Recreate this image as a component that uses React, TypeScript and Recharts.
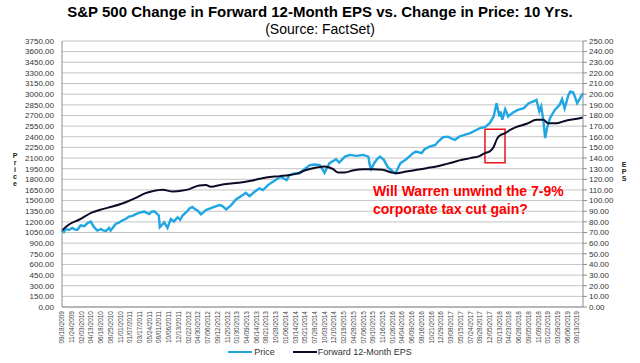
import React from "react"
import {
  ComposedChart,
  Line,
  XAxis,
  YAxis,
  CartesianGrid,
  ReferenceArea,
} from "recharts"

// ── Data ──────────────────────────────────────────────────────────────────────
// x positions are trading sessions since 09/18/2009 (one date label every 47 sessions)
const dateLabels = [
  "09/18/2009", "11/24/2009", "02/03/2010", "04/13/2010", "06/18/2010", "08/25/2010",
  "11/01/2010", "01/07/2011", "03/17/2011", "05/24/2011", "08/01/2011", "10/06/2011",
  "12/13/2011", "02/22/2012", "04/30/2012", "07/06/2012", "09/12/2012", "11/20/2012",
  "01/30/2013", "04/09/2013", "06/14/2013", "08/21/2013", "10/28/2013", "01/06/2014",
  "03/14/2014", "05/21/2014", "07/28/2014", "10/03/2014", "12/10/2014", "02/19/2015",
  "04/28/2015", "07/06/2015", "09/10/2015", "11/16/2015", "01/26/2016", "04/04/2016",
  "06/09/2016", "08/16/2016", "10/21/2016", "12/29/2016", "03/08/2017", "05/15/2017",
  "07/24/2017", "09/28/2017", "12/05/2017", "02/13/2018", "04/23/2018", "06/28/2018",
  "09/05/2018", "11/09/2018", "01/22/2019", "03/29/2019", "06/06/2019", "08/13/2019",
]
const SESSIONS_PER_LABEL = 47
const LAST_SESSION = 2519

const priceDay = [
  0, 9, 18, 33, 50, 61, 74, 90, 108, 122, 139, 155, 171, 188, 197, 212, 228, 235, 244, 259,
  275, 291, 308, 324, 341, 357, 376, 397, 422, 432, 447, 461, 468, 473, 484, 494, 503, 510,
  526, 541, 559, 571, 583, 602, 616, 630, 639, 656, 672, 696, 729, 761, 776, 794, 818, 841,
  874, 888, 907, 931, 954, 971, 996, 1020, 1043, 1058, 1086, 1100, 1123, 1147, 1170, 1199,
  1222, 1246, 1260, 1269, 1293, 1325, 1340, 1368, 1391, 1424, 1457, 1481, 1488, 1495, 1509,
  1523, 1537, 1556, 1575, 1600, 1612, 1636, 1664, 1683, 1697, 1711, 1739, 1753, 1777, 1805,
  1819, 1842, 1866, 1880, 1899, 1922, 1946, 1974, 1998, 2021, 2045, 2068, 2087, 2101, 2115,
  2120, 2129, 2143, 2157, 2181, 2204, 2233, 2256, 2280, 2294, 2308, 2317, 2327, 2336, 2345,
  2359, 2383, 2406, 2418, 2430, 2449, 2458, 2472, 2491, 2505, 2519,
]
const priceLevel = [
  1080, 1055, 1100, 1085, 1115, 1095, 1088, 1150, 1140, 1180, 1205, 1125, 1078, 1100, 1085,
  1070, 1115, 1078, 1110, 1170, 1190, 1220, 1240, 1275, 1285, 1310, 1330, 1345, 1310, 1340,
  1350, 1310, 1290, 1125, 1160, 1195, 1150, 1115, 1240, 1205, 1265, 1230, 1290, 1340, 1390,
  1410, 1390, 1357, 1306, 1367, 1404, 1437, 1423, 1376, 1437, 1517, 1578, 1611, 1564, 1625,
  1672, 1648, 1719, 1766, 1812, 1836, 1789, 1859, 1883, 1883, 1939, 2000, 2009, 2000, 1940,
  1890, 2027, 2083, 2036, 2121, 2144, 2130, 2144, 2121, 2004, 1943, 2027, 2083, 2121, 2074,
  1971, 1910, 1886, 2027, 2083, 2130, 2168, 2191, 2168, 2224, 2261, 2285, 2332, 2393, 2402,
  2379, 2357, 2404, 2428, 2451, 2489, 2521, 2536, 2592, 2686, 2873, 2686, 2756, 2639, 2789,
  2686, 2742, 2779, 2803, 2873, 2897, 2920, 2756, 2826, 2639, 2381, 2521, 2662, 2779, 2850,
  2930, 2800, 2991, 3037, 3023, 2873, 2944, 3014,
]

const epsDay = [
  0, 34, 82, 146, 195, 244, 308, 357, 404, 437, 486, 536, 583, 616, 663, 696, 719, 776, 855,
  914, 987, 1053, 1100, 1147, 1180, 1231, 1269, 1288, 1311, 1335, 1368, 1405, 1457, 1504,
  1551, 1593, 1617, 1664, 1716, 1763, 1810, 1861, 1899, 1922, 1974, 2021, 2045, 2068, 2087,
  2101, 2115, 2143, 2167, 2195, 2247, 2294, 2327, 2350, 2392, 2439, 2491, 2519,
]
const epsLevel = [
  72, 77.5, 82, 89, 92, 94.4, 98.5, 102.5, 107, 108.8, 110.3, 108.5, 109.4, 110.8, 114.3,
  114.6, 113, 115.2, 116.7, 118.7, 121.8, 123, 124, 126.1, 128.7, 131.1, 132, 131.4, 129.5,
  126.4, 126.4, 128.3, 129.5, 129.5, 128.9, 126.4, 125.7, 127.3, 128.9, 130.5, 132, 134.5,
  136.5, 137.8, 139.9, 142.1, 144.7, 146.2, 150.3, 157.1, 160.9, 163.4, 166.5, 169.1, 172.2,
  175.9, 175.9, 172.8, 172.8, 175.3, 176.9, 178.1,
]

const priceTicks = [
  0, 150, 300, 450, 600, 750, 900, 1050, 1200, 1350, 1500, 1650, 1800, 1950, 2100, 2250,
  2400, 2550, 2700, 2850, 3000, 3150, 3300, 3450, 3600, 3750,
]
const epsTicks = [
  0, 10, 20, 30, 40, 50, 60, 70, 80, 90, 100, 110, 120, 130, 140, 150, 160, 170, 180, 190,
  200, 210, 220, 230, 240, 250,
]

// red box around the Dec 2017 – Feb 2018 jump in forward EPS
const taxBoxDays = [2045, 2142]
const taxBoxPrice = [2034, 2505]

const priceData = priceDay.map((day, i) => ({ day, price: priceLevel[i] }))
const epsData = epsDay.map((day, i) => ({ day, eps: epsLevel[i] }))
const dateTicks = dateLabels.map((_, i) => i * SESSIONS_PER_LABEL)

const FONT = '"Liberation Sans", Arial, sans-serif'
const BLUE = "#1fa6e3"
const NAVY = "#0b0b26"

function DateTick({ x, y, payload }: any) {
  const label = dateLabels[Math.round(payload.value / SESSIONS_PER_LABEL)]
  return (
    <text
      x={x}
      y={y}
      transform={`rotate(-90 ${x} ${y})`}
      textAnchor="end"
      dy="0.35em"
      fontSize={6.5}
      fill="#444"
      fontFamily={FONT}
    >
      {label}
    </text>
  )
}

// axis name written as upright letters stacked top to bottom
function Stacked({ text, left, top }: { text: string; left: number; top: number }) {
  return (
    <div style={{ position: "absolute", left, top, width: 10, textAlign: "center" }}>
      {text.split("").map((c, i) => (
        <div key={i} style={{ fontSize: 7, lineHeight: "7px", height: 7, fontWeight: 700, color: "#222" }}>
          {c}
        </div>
      ))}
    </div>
  )
}

export default function App() {
  return (
    <div
      style={{
        position: "absolute",
        left: 0,
        top: 0,
        width: 640,
        height: 363,
        background: "#fff",
        fontFamily: FONT,
        overflow: "hidden",
      }}
    >
      <div
        style={{
          position: "absolute",
          top: 3,
          width: 640,
          textAlign: "center",
          fontSize: 15,
          lineHeight: "17px",
          fontWeight: 700,
          color: "#000",
        }}
      >
        S&amp;P 500 Change in Forward 12-Month EPS vs. Change in Price: 10 Yrs.
      </div>
      <div
        style={{
          position: "absolute",
          top: 21,
          width: 640,
          textAlign: "center",
          fontSize: 14,
          lineHeight: "16px",
          color: "#000",
        }}
      >
        (Source: FactSet)
      </div>

      <ComposedChart width={640} height={363} margin={{ top: 41, right: 0, bottom: 0, left: 0 }}>
        <CartesianGrid yAxisId="price" vertical={false} stroke="#c4c4c4" />
        <XAxis
          type="number"
          dataKey="day"
          domain={[0, LAST_SESSION]}
          ticks={dateTicks}
          interval={0}
          allowDuplicatedCategory={false}
          height={56}
          tick={<DateTick />}
          tickLine={false}
          tickSize={2}
          tickMargin={2}
          axisLine={{ stroke: "#8c8c8c" }}
        />
        <YAxis
          yAxisId="price"
          orientation="left"
          width={62}
          domain={[0, 3750]}
          ticks={priceTicks}
          interval={0}
          tickFormatter={(v: number) => v.toFixed(2)}
          tick={{ fontSize: 8, fill: "#333", fontFamily: FONT }}
          tickLine={false}
          tickSize={6}
          tickMargin={2}
          axisLine={{ stroke: "#8c8c8c" }}
        />
        <YAxis
          yAxisId="eps"
          orientation="right"
          width={57}
          domain={[0, 250]}
          ticks={epsTicks}
          interval={0}
          tickFormatter={(v: number) => v.toFixed(2)}
          tick={{ fontSize: 8, fill: "#333", fontFamily: FONT, textAnchor: "start" }}
          tickLine={{ stroke: "#8c8c8c" }}
          tickSize={4}
          tickMargin={2}
          axisLine={{ stroke: "#8c8c8c" }}
        />
        <Line
          yAxisId="price"
          data={priceData}
          dataKey="price"
          type="linear"
          stroke={BLUE}
          strokeWidth={2.4}
          dot={false}
          isAnimationActive={false}
        />
        <Line
          yAxisId="eps"
          data={epsData}
          dataKey="eps"
          type="monotone"
          stroke={NAVY}
          strokeWidth={2}
          dot={false}
          isAnimationActive={false}
        />
        <ReferenceArea
          yAxisId="price"
          x1={taxBoxDays[0]}
          x2={taxBoxDays[1]}
          y1={taxBoxPrice[0]}
          y2={taxBoxPrice[1]}
          fill="none"
          stroke="#e8141c"
          strokeWidth={1.5}
          ifOverflow="visible"
        />
      </ComposedChart>

      <Stacked text="Price" left={10} top={152} />
      <Stacked text="EPS" left={619} top={161} />

      <div
        style={{
          position: "absolute",
          left: 373,
          top: 182,
          fontSize: 14,
          lineHeight: "18px",
          fontWeight: 700,
          color: "#ff0000",
          whiteSpace: "nowrap",
        }}
      >
        Will Warren unwind the 7-9%
        <br />
        corporate tax cut gain?
      </div>

      <div
        style={{
          position: "absolute",
          top: 347,
          left: 0,
          width: 640,
          display: "flex",
          justifyContent: "center",
          alignItems: "center",
          fontSize: 9,
          color: "#333",
        }}
      >
        <span style={{ display: "inline-block", width: 24, height: 2, background: BLUE, marginRight: 2 }} />
        <span style={{ marginRight: 18 }}>Price</span>
        <span style={{ display: "inline-block", width: 24, height: 2, background: NAVY, marginRight: 1 }} />
        <span>Forward 12-Month EPS</span>
      </div>
    </div>
  )
}
